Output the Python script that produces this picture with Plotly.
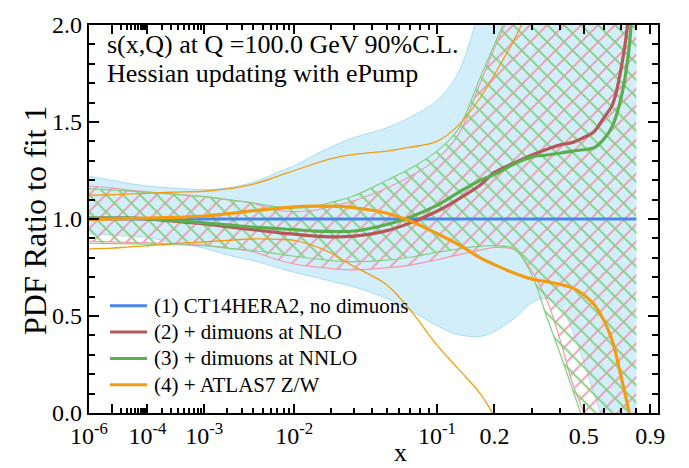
import plotly.graph_objects as go

# ---------------------------------------------------------------------------
# s(x,Q) PDF ratios at Q = 100 GeV, 90% C.L. Hessian bands (ePump updating)
# ---------------------------------------------------------------------------
x = [1e-6, 1e-5, 3e-5, 1e-4, 3e-4, 1e-3, 2e-3, 4e-3, 7e-3, 0.01, 0.015,
     0.02, 0.03, 0.05, 0.07, 0.1, 0.13, 0.17, 0.2, 0.25, 0.3, 0.35, 0.4,
     0.45, 0.5, 0.55, 0.6, 0.65, 0.7, 0.75, 0.8]

# (1) CT14HERA2 error band (central value is the reference, ratio = 1)
ct14_up = [1.22, 1.20, 1.185, 1.17, 1.16, 1.152, 1.16, 1.19, 1.24, 1.275, 1.33,
           1.37, 1.42, 1.47, 1.525, 1.61, 1.75, 2.1, 2.4, 2.8, 3.2, 3.6, 4.0,
           4.4, 4.8, 5.2, 5.6, 6.0, 6.4, 6.8, 7.2]
ct14_lo = [0.925, 0.918, 0.912, 0.905, 0.88, 0.85, 0.815, 0.785, 0.75, 0.725,
           0.70, 0.68, 0.65, 0.59, 0.53, 0.45, 0.405, 0.395, 0.42, 0.49, 0.57,
           0.59, 0.55, 0.42, 0.26, 0.10, -0.05, -0.2, -0.3, -0.4, -0.5]
ct14_c = [1.0] * len(x)

# (2) + dimuons at NLO
nlo_c = [1.005, 1.005, 1.004, 1.0, 0.99, 0.975, 0.96, 0.945, 0.93, 0.922,
         0.912, 0.908, 0.912, 0.94, 0.98, 1.04, 1.10, 1.175, 1.24, 1.29, 1.33,
         1.36, 1.382, 1.395, 1.42, 1.45, 1.52, 1.59, 1.77, 2.06, 2.7]
nlo_up = [1.17, 1.16, 1.15, 1.14, 1.13, 1.115, 1.10, 1.08, 1.045, 1.038,
          1.045, 1.065, 1.095, 1.16, 1.22, 1.31, 1.43, 1.70, 1.88, 2.12, 2.4,
          2.7, 3.0, 3.3, 3.6, 3.9, 4.2, 4.5, 4.8, 5.1, 5.4]
nlo_lo = [0.885, 0.882, 0.88, 0.877, 0.873, 0.865, 0.85, 0.83, 0.79, 0.768,
          0.753, 0.745, 0.738, 0.748, 0.762, 0.79, 0.815, 0.84, 0.853, 0.84,
          0.73, 0.58, 0.37, 0.15, 0.0, -0.2, -0.4, -0.6, -0.8, -1.0, -1.2]

# (3) + dimuons at NNLO
nnlo_c = [1.005, 1.005, 1.004, 1.0, 0.993, 0.98, 0.97, 0.958, 0.95, 0.945,
          0.938, 0.936, 0.938, 0.972, 1.01, 1.07, 1.135, 1.20, 1.23, 1.285,
          1.32, 1.33, 1.34, 1.35, 1.357, 1.367, 1.41, 1.48, 1.62, 1.87, 2.5]
nnlo_up = [1.157, 1.15, 1.145, 1.138, 1.128, 1.115, 1.10, 1.083, 1.062, 1.056,
           1.066, 1.085, 1.12, 1.20, 1.26, 1.35, 1.46, 1.73, 1.90, 2.15, 2.45,
           2.75, 3.05, 3.35, 3.65, 3.95, 4.25, 4.55, 4.85, 5.15, 5.45]
nnlo_lo = [0.875, 0.873, 0.872, 0.87, 0.868, 0.862, 0.85, 0.838, 0.82, 0.808,
           0.795, 0.785, 0.78, 0.788, 0.803, 0.828, 0.845, 0.86, 0.862, 0.845,
           0.71, 0.49, 0.30, 0.12, -0.05, -0.25, -0.45, -0.65, -0.85, -1.05,
           -1.25]

# (4) + ATLAS7 Z/W
atlas_c = [0.997, 1.0, 1.002, 1.005, 1.008, 1.015, 1.027, 1.043, 1.055, 1.062,
           1.066, 1.066, 1.058, 1.03, 0.99, 0.925, 0.87, 0.80, 0.765, 0.72,
           0.69, 0.677, 0.662, 0.645, 0.61, 0.56, 0.48, 0.37, 0.19, 0.01, -0.25]
atlas_up = [1.123, 1.125, 1.128, 1.132, 1.138, 1.143, 1.155, 1.18, 1.22, 1.25,
            1.285, 1.31, 1.333, 1.35, 1.37, 1.40, 1.48, 1.625, 1.745, 1.93,
            2.12, 2.35, 2.6, 2.85, 3.1, 3.35, 3.6, 3.85, 4.1, 4.35, 4.6]
atlas_lo = [0.846, 0.85, 0.855, 0.862, 0.872, 0.882, 0.89, 0.897, 0.895, 0.89,
            0.86, 0.825, 0.755, 0.66, 0.53, 0.35, 0.23, 0.10, -0.02, -0.25,
            -0.5, -0.75, -1.0, -1.25, -1.5, -1.75, -2.0, -2.25, -2.5, -2.75,
            -3.0]

series_names = ["(1) CT14HERA2, no dimuons", "(2) + dimuons at NLO",
                "(3) + dimuons at NNLO", "(4) + ATLAS7 Z/W"]

# axis ticks
major_x = [1e-6, 1e-5, 1e-4, 1e-3, 1e-2, 1e-1, 0.2, 0.5, 0.9]
major_x_text = ["10<sup>-6</sup>", "", "10<sup>-4</sup>", "10<sup>-3</sup>",
                "10<sup>-2</sup>", "10<sup>-1</sup>", "0.2", "0.5", "0.9"]
minor_x = ([k * 1e-5 for k in range(2, 10)] + [k * 1e-4 for k in range(2, 10)]
           + [k * 1e-3 for k in range(2, 10)] + [k * 1e-2 for k in range(2, 10)]
           + [0.3, 0.4, 0.6, 0.7, 0.8])
major_y = [0.0, 0.5, 1.0, 1.5, 2.0]
major_y_text = ["0.0", "0.5", "1.0", "1.5", "2.0"]

# x axis is drawn on an x^0.2 scale
POW = 0.2


def sx(vals):
    return [v ** POW for v in vals]


X = sx(x)

BLUE = "#4a86e8"
RED = "#b5585a"
GREEN = "#5aae4e"
ORANGE = "#f39c12"
BAND_BLUE = "#d2eefb"
BAND_BLUE_EDGE = "#a9dcf4"
PINK = "#f09aae"
LGREEN = "#84d07e"
SERIF = "Liberation Serif"

# plot-area geometry (pixels) used for paper-coordinate placement
W, H = 689, 468
ML, MR, MT, MB = 89, 31, 15, 55
PW, PH = W - ML - MR, H - MT - MB


def px(xp):
    return (xp - ML) / PW


def py(yp):
    return (H - MB - yp) / PH


fig = go.Figure()

common = dict(x=X, mode="lines", showlegend=False, hoverinfo="skip",
              line_shape="spline")

# CT14HERA2 band: solid light-blue fill
fig.add_trace(go.Scatter(y=ct14_lo, line=dict(color=BAND_BLUE_EDGE, width=1),
                         **common))
fig.add_trace(go.Scatter(y=ct14_up, line=dict(color=BAND_BLUE_EDGE, width=1),
                         fill="tonexty", fillcolor=BAND_BLUE, **common))

# NLO dimuon band: pink "/" hatching
fig.add_trace(go.Scatter(y=nlo_lo, line=dict(color=PINK, width=1.2), **common))
fig.add_trace(go.Scatter(y=nlo_up, line=dict(color=PINK, width=1.2),
                         fill="tonexty", fillcolor="rgba(0,0,0,0)",
                         fillpattern=dict(shape="/", fgcolor=PINK,
                                          bgcolor="rgba(0,0,0,0)", size=12,
                                          solidity=0.16, fillmode="replace"),
                         **common))

# NNLO dimuon band: green "\" hatching
fig.add_trace(go.Scatter(y=nnlo_lo, line=dict(color=LGREEN, width=1.2),
                         **common))
fig.add_trace(go.Scatter(y=nnlo_up, line=dict(color=LGREEN, width=1.2),
                         fill="tonexty", fillcolor="rgba(0,0,0,0)",
                         fillpattern=dict(shape="\\", fgcolor=LGREEN,
                                          bgcolor="rgba(0,0,0,0)", size=12,
                                          solidity=0.16, fillmode="replace"),
                         **common))

# ATLAS7 band edges only
fig.add_trace(go.Scatter(y=atlas_lo, line=dict(color=ORANGE, width=1.3),
                         **common))
fig.add_trace(go.Scatter(y=atlas_up, line=dict(color=ORANGE, width=1.3),
                         **common))

# central values
central = [ct14_c, nlo_c, nnlo_c, atlas_c]
colors = [BLUE, RED, GREEN, ORANGE]
for name, yv, col in zip(series_names, central, colors):
    fig.add_trace(go.Scatter(x=X, y=yv, mode="lines", name=name,
                             showlegend=False,
                             line=dict(color=col, width=3.2, shape="spline"),
                             hoverinfo="skip"))

# legend: line sample + label, stacked in the lower-left corner
for i, (name, col) in enumerate(zip(series_names, colors)):
    yc = 303 + 27 * i
    fig.add_shape(type="line", xref="paper", yref="paper",
                  x0=px(110), x1=px(147), y0=py(yc), y1=py(yc),
                  line=dict(color=col, width=3))
    fig.add_annotation(text=name, xref="paper", yref="paper",
                       x=px(152), y=py(yc), xanchor="left", yanchor="middle",
                       showarrow=False,
                       font=dict(family=SERIF, size=21, color="black"))

axis_common = dict(showline=True, linecolor="black", linewidth=2.2,
                   mirror="ticks", ticks="inside", tickcolor="black",
                   showgrid=False, zeroline=False,
                   tickfont=dict(family=SERIF, size=24, color="black"))

fig.update_xaxes(range=[(1e-6) ** POW, 0.9917], tickmode="array",
                 tickvals=sx(major_x), ticktext=major_x_text, ticklen=9,
                 tickwidth=2,
                 minor=dict(tickmode="array", tickvals=sx(minor_x),
                            ticklen=5, tickwidth=1.5, ticks="inside",
                            tickcolor="black"),
                 **axis_common)
fig.update_yaxes(range=[0, 2], tickmode="array",
                 tickvals=major_y, ticktext=major_y_text, ticklen=10,
                 tickwidth=2,
                 minor=dict(dtick=0.1, ticklen=6, tickwidth=1.5,
                            ticks="inside", tickcolor="black"),
                 **axis_common)

fig.add_annotation(text="PDF Ratio to fit 1", xref="paper", yref="paper",
                   x=px(35), y=py(216), xanchor="center", yanchor="middle",
                   textangle=-90, showarrow=False,
                   font=dict(family=SERIF, size=32, color="black"))
fig.add_annotation(text="s(x,Q) at Q =100.0 GeV 90%C.L.", xref="paper",
                   yref="paper", x=px(105), y=py(35), xanchor="left",
                   yanchor="middle", showarrow=False,
                   font=dict(family=SERIF, size=26, color="black"))
fig.add_annotation(text="Hessian updating with ePump", xref="paper",
                   yref="paper", x=px(105), y=py(65), xanchor="left",
                   yanchor="middle", showarrow=False,
                   font=dict(family=SERIF, size=26, color="black"))
fig.add_annotation(text="x", xref="paper", yref="paper",
                   x=px(400), y=py(454), xanchor="center",
                   yanchor="middle", showarrow=False,
                   font=dict(family=SERIF, size=26, color="black"))

fig.update_layout(
    width=W, height=H,
    margin=dict(l=ML, r=MR, t=MT, b=MB),
    paper_bgcolor="white", plot_bgcolor="white",
    showlegend=False,
)

fig.write_html("out.html")
